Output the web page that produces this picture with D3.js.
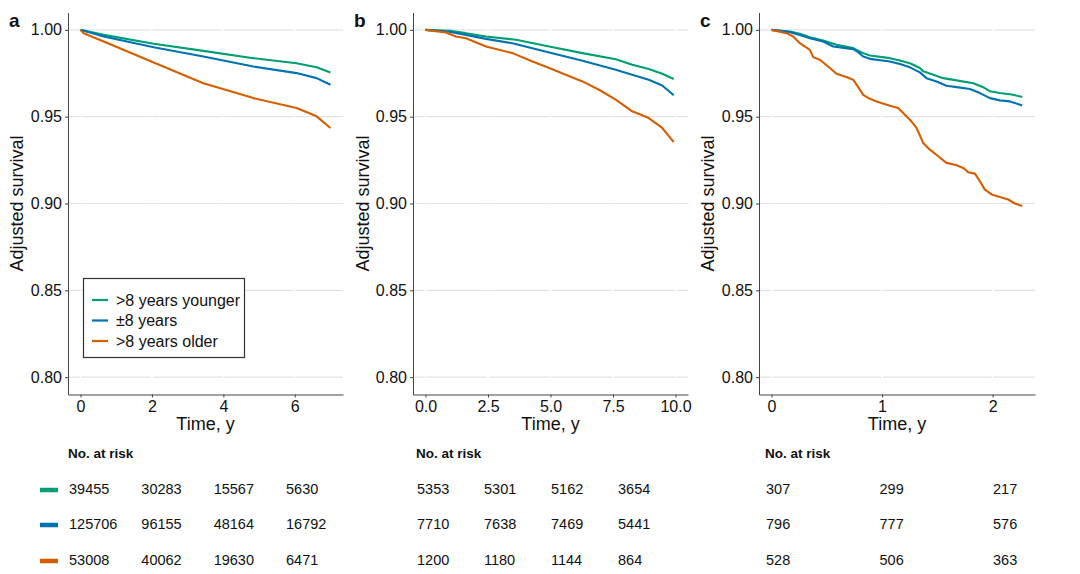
<!DOCTYPE html>
<html>
<head>
<meta charset="utf-8">
<script src="https://cdn.jsdelivr.net/npm/d3@7"></script>
<style>
  body { margin: 0; background: #fff; }
  text { font-family: "Liberation Sans", Arial, sans-serif; fill: #111; }
</style>
</head>
<body>
<script>
// groups and colours
const groups = [">8 years younger", "±8 years", ">8 years older"]
const colors = ["#009E73", "#0072B2", "#D55E00"]

// panel a: [time, adjusted survival]
const aYounger = [[0, 1], [0.65, 0.9971], [2.05, 0.9920], [3.44, 0.9879], [4.84, 0.9837], [6.05, 0.9808], [6.61, 0.9785], [7.0, 0.9755]]
const aSimilar = [[0, 1], [0.65, 0.9962], [2.05, 0.9900], [3.44, 0.9847], [4.84, 0.9789], [6.05, 0.9751], [6.61, 0.9722], [7.0, 0.9684]]
const aOlder   = [[0, 1], [0.09, 0.9981], [0.65, 0.9933], [2.05, 0.9812], [3.44, 0.9693], [4.84, 0.9607], [6.05, 0.9550], [6.61, 0.9502], [7.0, 0.9435]]

// panel b
const bYounger = [[0, 1], [0.96, 0.9994], [1.62, 0.9981], [2.42, 0.9962], [3.62, 0.9943], [4.95, 0.9904], [6.28, 0.9866], [7.61, 0.9831], [8.27, 0.9799], [8.93, 0.9774], [9.47, 0.9747], [9.93, 0.9717]]
const bSimilar = [[0, 1], [0.96, 0.9989], [1.62, 0.9971], [2.42, 0.9948], [3.48, 0.9923], [4.95, 0.9870], [6.28, 0.9822], [7.61, 0.9770], [8.27, 0.9741], [8.93, 0.9713], [9.47, 0.9680], [9.93, 0.9623]]
const bOlder   = [[0, 1], [0.82, 0.9985], [1.22, 0.9962], [1.62, 0.9952], [2.42, 0.9904], [3.48, 0.9866], [4.28, 0.9818], [4.95, 0.9780], [5.61, 0.9741], [6.28, 0.9703], [6.94, 0.9655], [7.61, 0.9598], [8.27, 0.9531], [8.93, 0.9492], [9.47, 0.9435], [9.93, 0.9353]]

// panel c
const cYounger = [[0, 1], [0.166, 0.9990], [0.256, 0.9977], [0.347, 0.9958], [0.467, 0.9939], [0.588, 0.9914], [0.739, 0.9895], [0.769, 0.9885], [0.829, 0.9866], [0.890, 0.9852], [1.071, 0.9837], [1.161, 0.9824], [1.252, 0.9808], [1.342, 0.9780], [1.372, 0.9761], [1.463, 0.9741], [1.553, 0.9722], [1.674, 0.9709], [1.825, 0.9693], [1.915, 0.9670], [1.976, 0.9646], [2.066, 0.9636], [2.187, 0.9626], [2.268, 0.9613]]
const cSimilar = [[0, 1], [0.166, 0.9987], [0.256, 0.9971], [0.347, 0.9952], [0.467, 0.9933], [0.558, 0.9904], [0.739, 0.9889], [0.784, 0.9872], [0.829, 0.9847], [0.890, 0.9833], [1.071, 0.9818], [1.161, 0.9803], [1.252, 0.9784], [1.342, 0.9755], [1.402, 0.9722], [1.493, 0.9703], [1.583, 0.9678], [1.674, 0.9670], [1.795, 0.9659], [1.885, 0.9636], [1.976, 0.9607], [2.066, 0.9594], [2.157, 0.9588], [2.268, 0.9565]]
const cOlder   = [[0, 1], [0.135, 0.9981], [0.196, 0.9962], [0.256, 0.9923], [0.347, 0.9885], [0.377, 0.9843], [0.437, 0.9828], [0.528, 0.9780], [0.588, 0.9747], [0.678, 0.9728], [0.739, 0.9713], [0.784, 0.9670], [0.829, 0.9626], [0.890, 0.9603], [0.950, 0.9588], [1.071, 0.9563], [1.146, 0.9550], [1.191, 0.9521], [1.252, 0.9483], [1.312, 0.9435], [1.372, 0.9349], [1.433, 0.9310], [1.508, 0.9272], [1.583, 0.9234], [1.674, 0.9220], [1.734, 0.9205], [1.779, 0.9180], [1.840, 0.9172], [1.885, 0.9128], [1.930, 0.9080], [1.991, 0.9052], [2.066, 0.9038], [2.141, 0.9023], [2.202, 0.9000], [2.268, 0.8985]]

// number at risk
const riskA = [[39455, 30283, 15567, 5630], [125706, 96155, 48164, 16792], [53008, 40062, 19630, 6471]]
const riskB = [[5353, 5301, 5162, 3654], [7710, 7638, 7469, 5441], [1200, 1180, 1144, 864]]
const riskC = [[307, 299, 217], [796, 777, 576], [528, 506, 363]]

// ticks
const yTicks = [0.80, 0.85, 0.90, 0.95, 1.00]
const xTicksA = [0, 2, 4, 6]
const xTicksB = [0, 2.5, 5, 7.5, 10]
const xTicksC = [0, 1, 2]

const width = 1080, height = 574
const plotTop = 12.5, plotBottom = 394.5

const panels = [
	{ label: "a", left: 68, right: 343, xmax: 7.0, ticks: xTicksA, fmt: d3.format("d"), series: [aYounger, aSimilar, aOlder], risk: riskA, riskX: [69, 286], titleX: 23 },
	{ label: "b", left: 413, right: 688, xmax: 10.0, ticks: xTicksB, fmt: d3.format(".1f"), series: [bYounger, bSimilar, bOlder], risk: riskB, riskX: [417, 618], titleX: 369 },
	{ label: "c", left: 759, right: 1035, xmax: 2.27, ticks: xTicksC, fmt: d3.format("d"), series: [cYounger, cSimilar, cOlder], risk: riskC, riskX: [766, 993], titleX: 714 }
]

const svg = d3.select("body").append("svg")
	.attr("width", width)
	.attr("height", height)

const y = d3.scaleLinear().domain([0.79, 1.01]).range([plotBottom, plotTop])

panels.forEach((p, pi) => {
	const pad = p.xmax * 0.05
	const x = d3.scaleLinear().domain([-pad, p.xmax + pad]).range([p.left, p.right])
	const g = svg.append("g")

	// horizontal grid
	g.append("g").selectAll("line")
		.data(yTicks)
		.join("line")
		.attr("x1", p.left).attr("x2", p.right)
		.attr("y1", d => y(d)).attr("y2", d => y(d))
		.attr("stroke", "#e3e3e3")
		.attr("stroke-width", 1.2)

	// white vertical grid on top, leaves small gaps
	g.append("g").selectAll("line")
		.data(p.ticks)
		.join("line")
		.attr("x1", d => x(d)).attr("x2", d => x(d))
		.attr("y1", plotTop).attr("y2", plotBottom)
		.attr("stroke", "#fff")
		.attr("stroke-width", 1.5)

	// curves
	const line = d3.line().x(d => x(d[0])).y(d => y(d[1]))
	g.append("g").selectAll("path")
		.data(p.series)
		.join("path")
		.attr("d", line)
		.attr("fill", "none")
		.attr("stroke", (d, i) => colors[i])
		.attr("stroke-width", 2.1)
		.attr("stroke-linejoin", "round")

	// axes
	const yAxis = g.append("g")
		.attr("transform", `translate(${p.left},0)`)
		.call(d3.axisLeft(y).tickValues(yTicks).tickFormat(d3.format(".2f")).tickSize(3).tickSizeOuter(0).tickPadding(3))
	const xAxis = g.append("g")
		.attr("transform", `translate(0,${plotBottom})`)
		.call(d3.axisBottom(x).tickValues(p.ticks).tickFormat(p.fmt).tickSize(3).tickSizeOuter(0).tickPadding(3))
	;[yAxis, xAxis].forEach(a => {
		a.selectAll("path, line").attr("stroke", "#444").attr("stroke-width", 1)
		a.selectAll("text").style("font-size", "16px").attr("fill", "#111")
			.style("font-family", '"Liberation Sans", Arial, sans-serif')
	})

	// titles
	g.append("text")
		.attr("transform", `translate(${p.titleX},${(plotTop + plotBottom) / 2}) rotate(-90)`)
		.attr("text-anchor", "middle")
		.style("font-size", "18px")
		.text("Adjusted survival")
	g.append("text")
		.attr("x", (p.left + p.right) / 2)
		.attr("y", 430)
		.attr("text-anchor", "middle")
		.style("font-size", "18px")
		.text("Time, y")
	g.append("text")
		.attr("x", p.left - 59)
		.attr("y", 27)
		.style("font-size", "19px")
		.style("font-weight", "bold")
		.text(p.label)

	// number at risk table
	g.append("text")
		.attr("x", p.riskX[0] - 1)
		.attr("y", 458)
		.style("font-size", "13.5px")
		.style("font-weight", "bold")
		.text("No. at risk")
	const cx = d3.scaleLinear().domain([0, p.risk[0].length - 1]).range(p.riskX)
	const rowY = [489, 524, 560]
	p.risk.forEach((row, ri) => {
		g.append("g").selectAll("text")
			.data(row)
			.join("text")
			.attr("x", (d, i) => cx(i))
			.attr("y", rowY[ri])
			.attr("dy", "0.35em")
			.style("font-size", "14.5px")
			.text(d => d)
		if (pi == 0) {
			g.append("line")
				.attr("x1", 40).attr("x2", 58)
				.attr("y1", rowY[ri] + 1).attr("y2", rowY[ri] + 1)
				.attr("stroke", colors[ri])
				.attr("stroke-width", 4.5)
		}
	})

	// legend only in panel a
	if (pi == 0) {
		const lg = g.append("g")
		lg.append("rect")
			.attr("x", 83.5).attr("y", 278.5)
			.attr("width", 161).attr("height", 79)
			.attr("fill", "#fff")
			.attr("stroke", "#333")
			.attr("stroke-width", 1.2)
		const ly = [300, 320.5, 341]
		groups.forEach((name, i) => {
			lg.append("line")
				.attr("x1", 92).attr("x2", 108)
				.attr("y1", ly[i]).attr("y2", ly[i])
				.attr("stroke", colors[i])
				.attr("stroke-width", 2.2)
			lg.append("text")
				.attr("x", 116)
				.attr("y", ly[i])
				.attr("dy", "0.35em")
				.style("font-size", "16px")
				.text(name)
		})
	}
})
</script>
</body>
</html>
